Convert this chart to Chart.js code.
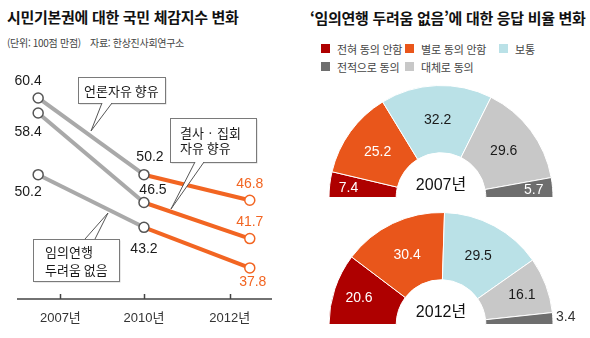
<!DOCTYPE html>
<html lang="ko">
<head>
<meta charset="UTF-8" />
<title>시민기본권 체감지수 변화</title>
<script src="https://cdn.jsdelivr.net/npm/chart.js"></script>
<style>
  body { margin: 0; width: 590px; height: 338px; background: #fff; position: relative; overflow: hidden;
         font-family: "Noto Sans CJK KR", "Noto Sans", sans-serif; color: #222; }
  .abs { position: absolute; white-space: nowrap; }
  .title { font-size: 15px; font-weight: bold; line-height: 20px; color: #111; letter-spacing: -0.3px; }
  .sub { font-size: 10px; line-height: 14px; color: #444; letter-spacing: -0.3px; }
  .lg { font-size: 11px; line-height: 14px; color: #444; letter-spacing: -0.2px; }
  .sq { position: absolute; width: 9px; height: 9px; }
  canvas { position: absolute; }
</style>
</head>
<body>
  <!-- 제목 -->
  <div class="abs title" style="left:7px; top:7px;">시민기본권에 대한 국민 체감지수 변화</div>
  <div class="abs sub" style="left:7px; top:36px;">(단위: 100점 만점)</div>
  <div class="abs sub" style="left:90px; top:36px;">자료: 한상진사회연구소</div>
  <div class="abs title" style="left:310px; top:8px;">‘임의연행 두려움 없음’에 대한 응답 비율 변화</div>
  <div id="legend"></div>

  <canvas id="lineChart" width="295" height="338" style="left:0; top:0;"></canvas>
  <canvas id="pie2007" width="295" height="125" style="left:295px; top:80px;"></canvas>
  <canvas id="pie2012" width="295" height="133" style="left:295px; top:205px;"></canvas>

<script>
// 데이터
const years = ['2007년', '2010년', '2012년'];
const seriesNames = ['언론자유 향유', '결사·집회 자유 향유', '임의연행 두려움 없음'];
const speech = [60.4, 50.2, 46.8];
const assembly = [58.4, 46.5, 41.7];
const arrest = [50.2, 43.2, 37.8];

const answers = ['전혀 동의 안함', '별로 동의 안함', '보통', '대체로 동의', '전적으로 동의'];
const share2007 = [7.4, 25.2, 32.2, 29.6, 5.7];
const share2012 = [20.6, 30.4, 29.5, 16.1, 3.4];

// 스타일
const gray = '#a9a9a9';
const orange = '#f26522';
const pieColors = ['#ae0000', '#e9561b', '#bae1e7', '#c8c8c8', '#6e6e6e'];
const pieText = ['#fff', '#fff', '#1a1a1a', '#1a1a1a', '#fff'];
const numFont = '"Liberation Sans", Arial, "Noto Sans CJK KR", sans-serif';
const krFont = '"Noto Sans CJK KR", sans-serif';

// 범례
const legendPos = [[321, 44], [405, 44], [499, 44], [405, 62], [321, 62]];
let lg = '';
answers.forEach((a, i) => {
  const [x, y] = legendPos[i];
  lg += `<div class="sq" style="left:${x}px; top:${y}px; background:${pieColors[i]}"></div>`;
  lg += `<div class="abs lg" style="left:${x + 16}px; top:${y - 2}px;">${a}</div>`;
});
document.getElementById('legend').innerHTML = lg;

// 꺾은선 그래프
const labelShift = [
  [[-10, -17], [6, -18], [0, -16]],
  [[-10, 19], [9, -12], [0, -16]],
  [[-10, 17], [0, 22], [3, 14]],
];
const tickVals = [0.21, 1, 1.81];
const callouts = [
  { box: [78, 77, 87, 26], lines: ['언론자유 향유'], textX: 84, textY: [91], tail: [[102, 103], [112, 103], [91, 131]] },
  { box: [170, 118, 86, 44], lines: ['결사 · 집회', '자유 향유'], textX: 180, textY: [133, 148], tail: [[195, 162], [204, 162], [171, 209]] },
  { box: [33, 239, 86, 42], lines: ['임의연행', '두려움 없음'], textX: 45, textY: [252, 270], tail: [[85, 239], [95, 239], [108, 213]] },
];

function series(vals) {
  return {
    data: vals.map((v, i) => ({ x: i, y: v })),
    borderColor: gray,
    borderWidth: 4,
    segment: { borderColor: c => c.p0DataIndex === 0 ? gray : orange },
    pointRadius: 5,
    pointHoverRadius: 5,
    pointBorderWidth: 1.5,
    pointBackgroundColor: '#fff',
    pointBorderColor: ['#555', '#555', orange],
  };
}

const lineDecor = {
  id: 'lineDecor',
  afterDatasetsDraw(chart) {
    const ctx = chart.ctx;
    const xs = chart.scales.x, a = chart.chartArea;
    ctx.save();
    // 축
    ctx.strokeStyle = '#444';
    ctx.lineWidth = 1.5;
    ctx.beginPath();
    ctx.moveTo(a.left, a.bottom);
    ctx.lineTo(a.right, a.bottom);
    tickVals.forEach(v => {
      const px = Math.round(xs.getPixelForValue(v)) + 0.5;
      ctx.moveTo(px, a.bottom);
      ctx.lineTo(px, a.bottom - 5);
    });
    ctx.stroke();
    ctx.fillStyle = '#333';
    ctx.font = '13px ' + numFont;
    ctx.textAlign = 'center';
    ctx.textBaseline = 'middle';
    years.forEach((y, i) => ctx.fillText(y, xs.getPixelForValue(tickVals[i]), 318));

    // 값 표시
    ctx.font = '14px ' + numFont;
    chart.data.datasets.forEach((ds, di) => {
      chart.getDatasetMeta(di).data.forEach((pt, i) => {
        const [dx, dy] = labelShift[di][i];
        ctx.fillStyle = i === 2 ? orange : '#1a1a1a';
        ctx.fillText(ds.data[i].y.toFixed(1), pt.x + dx, pt.y + dy);
      });
    });

    // 말풍선
    callouts.forEach(c => {
      const [x, y, w, h] = c.box;
      ctx.fillStyle = '#d4d4d4';
      ctx.fillRect(x + 1.5, y + 1.5, w, h);
      ctx.fillStyle = '#fff';
      ctx.fillRect(x, y, w, h);
      ctx.strokeStyle = '#7a7a7a';
      ctx.lineWidth = 1;
      ctx.strokeRect(x + 0.5, y + 0.5, w, h);
      const [p, q, t] = c.tail;
      ctx.beginPath();
      ctx.moveTo(p[0], p[1]);
      ctx.lineTo(t[0], t[1]);
      ctx.lineTo(q[0], q[1]);
      ctx.closePath();
      ctx.fillStyle = '#fff';
      ctx.fill();
      ctx.beginPath();
      ctx.moveTo(p[0], p[1]);
      ctx.lineTo(t[0], t[1]);
      ctx.lineTo(q[0], q[1]);
      ctx.strokeStyle = '#555';
      ctx.stroke();
      ctx.fillStyle = '#1a1a1a';
      ctx.font = '13px ' + krFont;
      ctx.textAlign = 'left';
      c.lines.forEach((s, i) => ctx.fillText(s, c.textX, c.textY[i]));
    });
    ctx.restore();
  }
};

new Chart(document.getElementById('lineChart'), {
  type: 'line',
  data: { datasets: [series(speech), series(assembly), series(arrest)].map((d, i) => ({ ...d, label: seriesNames[i] })) },
  options: {
    responsive: false,
    animation: false,
    layout: { padding: { left: 17, right: 23, top: 60, bottom: 39 } },
    plugins: { legend: { display: false }, tooltip: { enabled: false } },
    scales: {
      x: { type: 'linear', display: false, min: -0.2, max: 2.21 },
      y: { display: false, min: 33.67, max: 65.45 },
    },
  },
  plugins: [lineDecor],
});

// 반원 그래프
const sliceLabels = {
  id: 'sliceLabels',
  afterDatasetsDraw(chart, args, opts) {
    const ctx = chart.ctx;
    const vals = chart.data.datasets[0].data;
    ctx.save();
    ctx.textAlign = 'center';
    ctx.textBaseline = 'middle';
    ctx.font = '14px ' + numFont;
    let cx = 0, cy = 0;
    chart.getDatasetMeta(0).data.forEach((arc, i) => {
      const { x, y, startAngle, endAngle, innerRadius, outerRadius } = arc.getProps(['x', 'y', 'startAngle', 'endAngle', 'innerRadius', 'outerRadius'], true);
      cx = x; cy = y;
      const v = vals[i];
      const mid = (startAngle + endAngle) / 2;
      if (v < 4) {
        ctx.fillStyle = '#333';
        ctx.textAlign = 'left';
        ctx.fillText(v.toFixed(1), x + outerRadius + 3, y - 7);
        ctx.textAlign = 'center';
        return;
      }
      const f = v < 8 ? 0.72 : v < 21 ? 0.62 : 0.5;
      const r = innerRadius + (outerRadius - innerRadius) * f;
      ctx.fillStyle = pieText[i];
      ctx.fillText(v.toFixed(1), x + Math.cos(mid) * r, y + Math.sin(mid) * r + 1);
    });
    ctx.fillStyle = '#111';
    ctx.font = '16px ' + numFont;
    ctx.fillText(opts.year, cx, cy - 11.5);
    ctx.restore();
  }
};

function halfPie(id, vals, year, pad) {
  new Chart(document.getElementById(id), {
    type: 'doughnut',
    data: {
      labels: answers,
      datasets: [{ data: vals, backgroundColor: pieColors, borderColor: '#fff', borderWidth: 1 }],
    },
    options: {
      responsive: false,
      animation: false,
      rotation: -90,
      circumference: 180,
      cutout: '40%',
      layout: { padding: pad },
      plugins: { legend: { display: false }, tooltip: { enabled: false }, sliceLabels: { year } },
    },
    plugins: [sliceLabels],
  });
}

halfPie('pie2007', share2007, years[0], { left: 33, right: 36, top: 5, bottom: 7 });
halfPie('pie2012', share2012, years[2], { left: 33, right: 36, top: 7, bottom: 13 });
</script>
</body>
</html>
